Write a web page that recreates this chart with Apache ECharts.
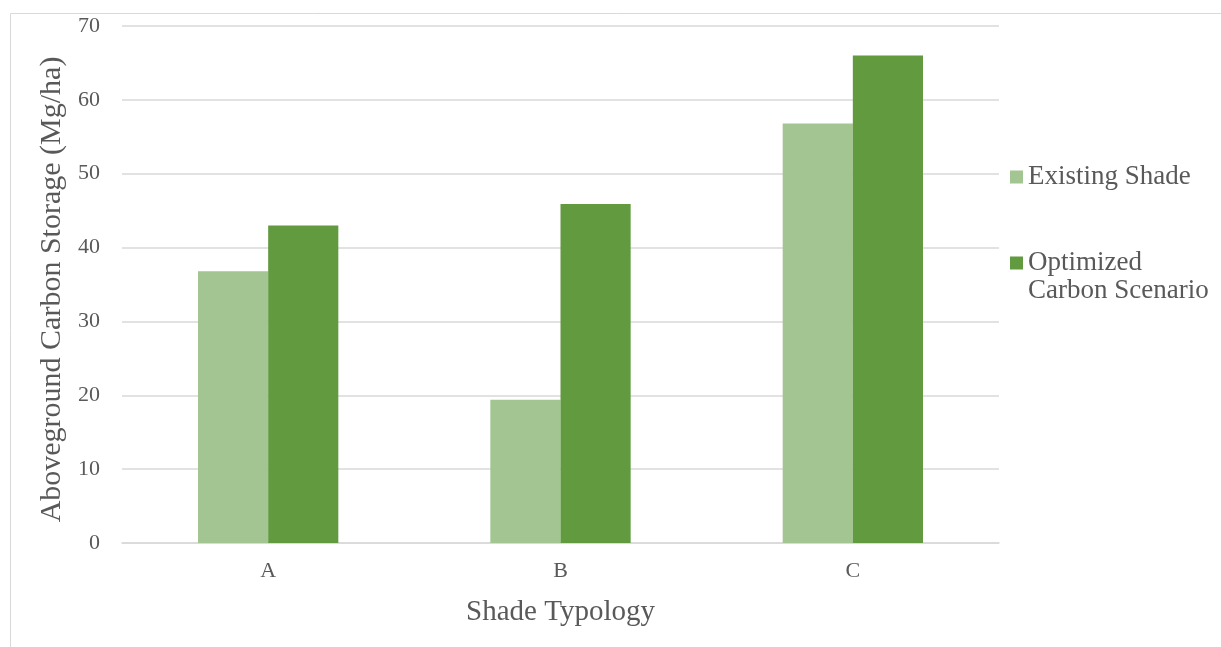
<!DOCTYPE html>
<html>
<head>
<meta charset="utf-8">
<script src="https://cdn.jsdelivr.net/npm/echarts@6/dist/echarts.min.js"></script>
<style>
  html, body { margin: 0; padding: 0; background: #ffffff; }
  #chart { width: 1221px; height: 647px; }
</style>
</head>
<body>
<div id="chart"></div>
<script>
// Shade typologies and aboveground carbon storage (Mg/ha)
const categories = ['A', 'B', 'C'];
const existingShade = [36.8, 19.4, 56.8];
const optimizedCarbon = [43.0, 45.9, 66.0];
const seriesNames = ['Existing Shade', 'Optimized Carbon Scenario'];
const yTicks = { min: 0, max: 70, interval: 10 };

const FONT = '"Liberation Serif", "Times New Roman", serif';
const TEXT = '#595959';
const LINE = '#D9D9D9';

const chart = echarts.init(document.getElementById('chart'));

const legendBase = {
  orient: 'vertical',
  left: 1010,
  padding: 0,
  itemWidth: 13,
  itemHeight: 13,
  icon: 'rect',
  textStyle: { fontFamily: FONT, fontSize: 27, color: TEXT, lineHeight: 28 }
};

chart.setOption({
  backgroundColor: '#ffffff',
  animation: false,
  graphic: [{
    type: 'rect',
    shape: { x: 10.5, y: 13.5, width: 1400, height: 800 },
    style: { fill: 'none', stroke: LINE, lineWidth: 1 },
    silent: true,
    z: -10
  }],
  grid: { left: 122, right: 222, top: 26, bottom: 104, containLabel: false },
  legend: [
    Object.assign({}, legendBase, {
      top: 163,
      data: [seriesNames[0]]
    }),
    Object.assign({}, legendBase, {
      top: 221,
      data: [seriesNames[1]],
      // leading blank line keeps the swatch level with the first text line
      formatter: function () { return '\nOptimized\nCarbon Scenario'; }
    })
  ],
  xAxis: {
    type: 'category',
    data: categories,
    name: 'Shade Typology',
    nameLocation: 'middle',
    nameGap: 55,
    nameTextStyle: { fontFamily: FONT, fontSize: 29, color: TEXT },
    axisLine: { show: true, lineStyle: { color: LINE, width: 1.5 } },
    axisTick: { show: false },
    axisLabel: { fontFamily: FONT, fontSize: 22, color: TEXT, margin: 17 }
  },
  yAxis: {
    type: 'value',
    min: yTicks.min,
    max: yTicks.max,
    interval: yTicks.interval,
    name: 'Aboveground Carbon Storage (Mg/ha)',
    nameLocation: 'middle',
    nameRotate: 90,
    nameGap: 54,
    nameTextStyle: { fontFamily: FONT, fontSize: 30, color: TEXT, padding: [0, 10, 0, 0] },
    axisLine: { show: false },
    axisTick: { show: false },
    axisLabel: { fontFamily: FONT, fontSize: 22, color: TEXT, margin: 22 },
    splitLine: { lineStyle: { color: LINE, width: 1.5 } }
  },
  series: [{
    name: seriesNames[0],
    type: 'bar',
    data: existingShade,
    barWidth: '24%',
    barGap: '0%',
    itemStyle: { color: '#A3C592' }
  }, {
    name: seriesNames[1],
    type: 'bar',
    data: optimizedCarbon,
    barWidth: '24%',
    barGap: '0%',
    itemStyle: { color: '#629A3F' }
  }]
});
</script>
</body>
</html>
